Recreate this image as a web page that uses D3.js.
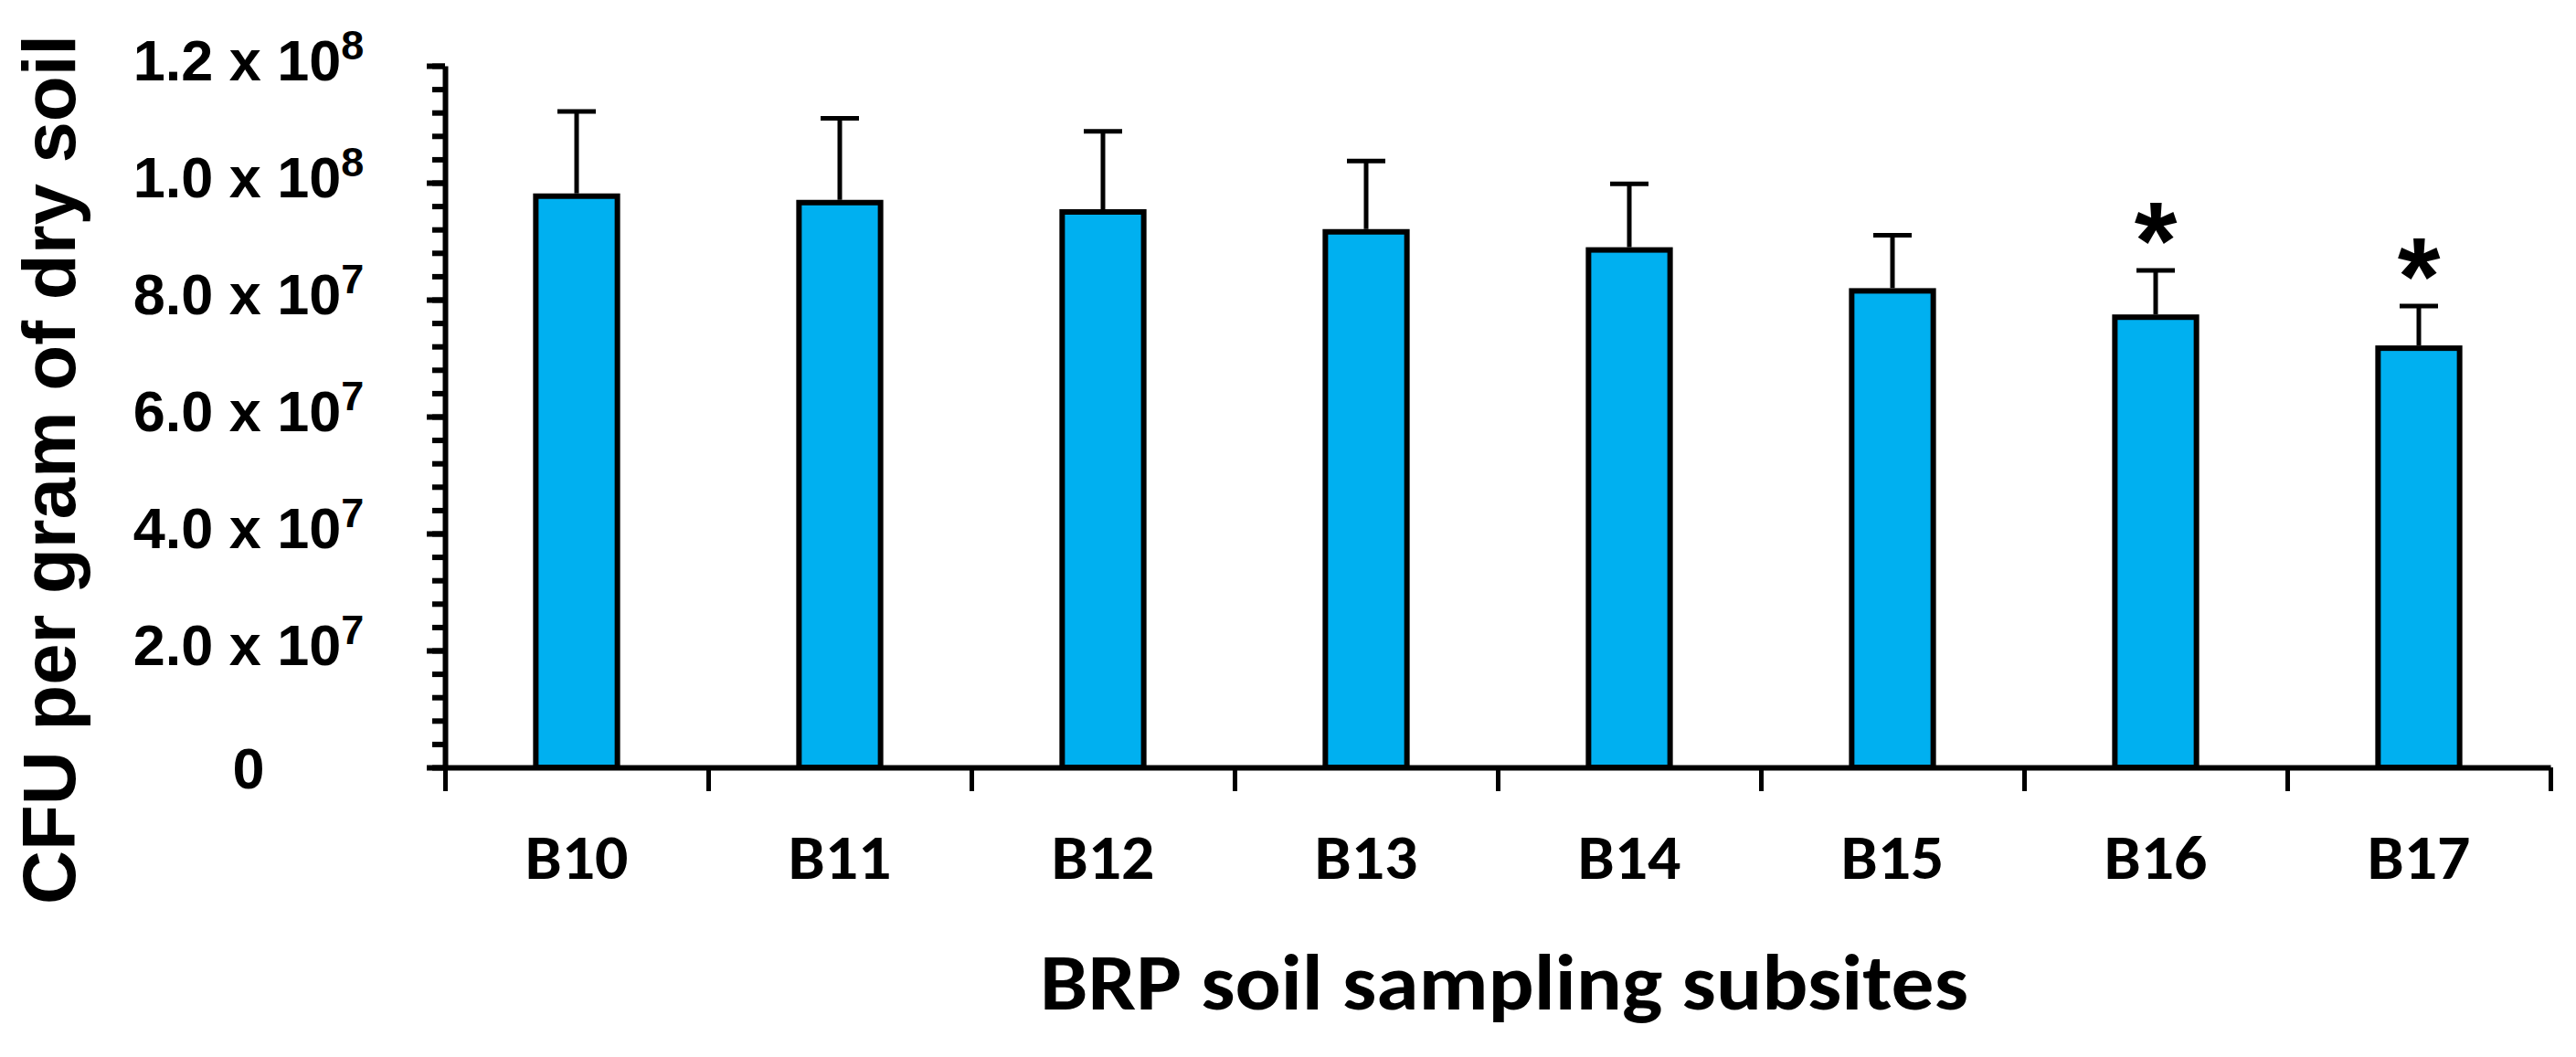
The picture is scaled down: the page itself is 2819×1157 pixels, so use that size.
<!DOCTYPE html>
<html>
<head>
<meta charset="utf-8">
<script src="https://cdn.jsdelivr.net/npm/d3@7"></script>
<style>
  html, body { margin: 0; padding: 0; background: #fff; }
  svg { display: block; }
</style>
</head>
<body>
<script>
// data
const sites = ["B10", "B11", "B12", "B13", "B14", "B15", "B16", "B17"];
const cfuMean = [9.77e7, 9.66e7, 9.50e7, 9.16e7, 8.85e7, 8.15e7, 7.70e7, 7.17e7];
const cfuErr = [1.45e7, 1.44e7, 1.38e7, 1.21e7, 1.13e7, 0.95e7, 0.80e7, 0.72e7];
const significant = ["B16", "B17"];
const yMajor = [0, 2e7, 4e7, 6e7, 8e7, 1e8, 1.2e8];
const yLabels = [["0", ""], ["2.0 x 10", "7"], ["4.0 x 10", "7"], ["6.0 x 10", "7"],
                 ["8.0 x 10", "7"], ["1.0 x 10", "8"], ["1.2 x 10", "8"]];

const W = 2819, H = 1157;
const plotLeft = 487, plotRight = 2791, plotTop = 72, plotBottom = 840;

const svg = d3.select("body").append("svg")
    .attr("width", W)
    .attr("height", H);

const y = d3.scaleLinear().domain([0, 1.2e8]).range([plotBottom, plotTop]);
const x = d3.scaleBand().domain(sites).range([plotLeft, plotRight])
    .paddingInner(0.69).paddingOuter(0.345);
// boundaries between the categories
const xEdge = d3.scaleLinear().domain([0, sites.length]).range([plotLeft, plotRight]);

// bars
svg.selectAll("rect.bar").data(sites).enter().append("rect")
    .attr("class", "bar")
    .attr("x", d => x(d))
    .attr("width", x.bandwidth())
    .attr("y", (d, i) => y(cfuMean[i]))
    .attr("height", (d, i) => y(0) - y(cfuMean[i]))
    .attr("fill", "#00b0f0")
    .attr("stroke", "#000")
    .attr("stroke-width", 6);

// error bars (upper only)
const err = svg.append("g").attr("stroke", "#000").attr("stroke-width", 5);
sites.forEach((s, i) => {
    const cx = x(s) + x.bandwidth() / 2;
    const yt = y(cfuMean[i] + cfuErr[i]);
    err.append("line")
        .attr("x1", cx).attr("x2", cx)
        .attr("y1", y(cfuMean[i]) - 3).attr("y2", yt);
    err.append("line")
        .attr("x1", cx - 21).attr("x2", cx + 21)
        .attr("y1", yt).attr("y2", yt);
    if (significant.includes(s)) {
        svg.append("text")
            .attr("x", cx)
            .attr("y", yt + 9)
            .attr("text-anchor", "middle")
            .attr("font-family", "Arial, 'Liberation Sans', sans-serif")
            .attr("font-weight", "bold")
            .attr("font-size", 120)
            .text("*");
    }
});

// y axis: minor and major ticks
const minor = d3.range(0, 1.2e8 + 1, 4e6);
svg.append("g")
    .attr("transform", `translate(${plotLeft},0)`)
    .call(d3.axisLeft(y).tickValues(minor).tickSize(14).tickSizeOuter(0).tickFormat(""))
    .call(g => g.select(".domain").attr("stroke-width", 6))
    .call(g => g.selectAll(".tick line").attr("stroke-width", 6));
svg.append("g")
    .attr("transform", `translate(${plotLeft},0)`)
    .call(d3.axisLeft(y).tickValues(yMajor).tickSize(20).tickSizeOuter(0).tickFormat(""))
    .call(g => g.select(".domain").remove())
    .call(g => g.selectAll(".tick line").attr("stroke-width", 6));

// y tick labels with superscript exponents
const yl = svg.append("g")
    .attr("font-family", "Arial, 'Liberation Sans', sans-serif")
    .attr("font-weight", "bold")
    .attr("text-anchor", "middle");
yMajor.forEach((v, i) => {
    const t = yl.append("text")
        .attr("x", 272)
        .attr("y", y(v) + (v === 0 ? 23 : 16))
        .attr("font-size", 63)
        .text(yLabels[i][0]);
    if (yLabels[i][1]) {
        t.append("tspan")
            .attr("dy", -23)
            .attr("font-size", 45)
            .text(yLabels[i][1]);
    }
});

// x axis with ticks between categories
svg.append("g")
    .attr("transform", `translate(0,${plotBottom})`)
    .call(d3.axisBottom(xEdge).tickValues(d3.range(0, sites.length + 1)).tickSize(26).tickSizeOuter(0).tickFormat(""))
    .call(g => g.select(".domain").attr("stroke-width", 6))
    .call(g => g.selectAll(".tick line").attr("stroke-width", 5));

// x category labels
svg.append("g")
    .attr("font-family", "Calibri, Carlito, Lato, sans-serif")
    .attr("font-weight", "bold")
    .attr("text-anchor", "middle")
    .selectAll("text").data(sites).enter().append("text")
    .attr("x", d => x(d) + x.bandwidth() / 2)
    .attr("y", 962)
    .attr("font-size", 68)
    .attr("textLength", 113)
    .attr("lengthAdjust", "spacingAndGlyphs")
    .text(d => d);

// axis titles
svg.append("text")
    .attr("x", 1646)
    .attr("y", 1105)
    .attr("text-anchor", "middle")
    .attr("font-family", "Calibri, Carlito, Lato, sans-serif")
    .attr("font-weight", "bold")
    .attr("font-size", 88)
    .attr("textLength", 1016)
    .attr("lengthAdjust", "spacingAndGlyphs")
    .text("BRP soil sampling subsites");

svg.append("text")
    .attr("transform", "rotate(-90)")
    .attr("x", -514)
    .attr("y", 82)
    .attr("text-anchor", "middle")
    .attr("font-family", "Arial, 'Liberation Sans', sans-serif")
    .attr("font-weight", "bold")
    .attr("font-size", 82)
    .attr("textLength", 952)
    .attr("lengthAdjust", "spacingAndGlyphs")
    .text("CFU per gram of dry soil");
</script>
</body>
</html>
